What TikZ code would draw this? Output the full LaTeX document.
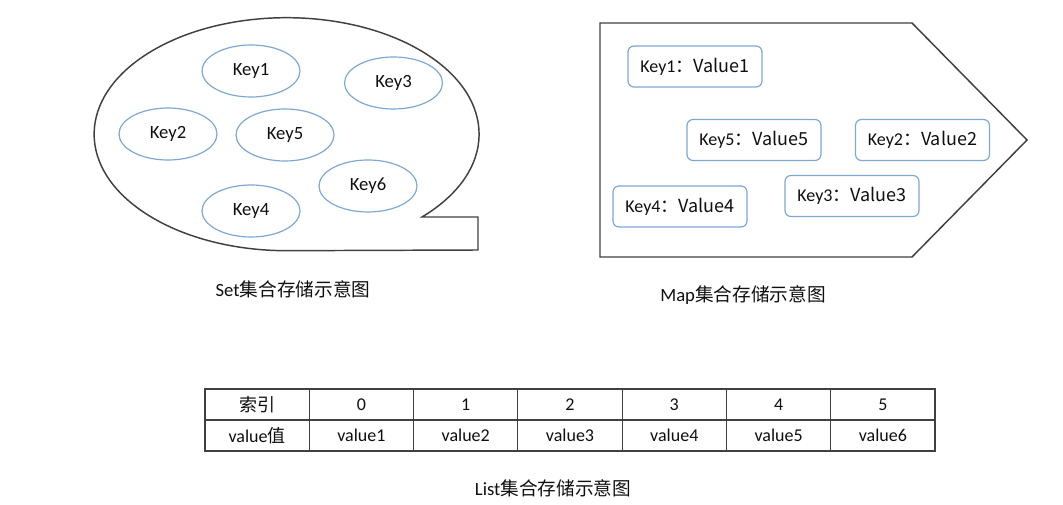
\documentclass[tikz,border=0pt]{standalone}
\usepackage{fontspec}
\setmainfont{Carlito}
\newfontfamily\cjk{Noto Sans CJK SC}
\usetikzlibrary{shapes.geometric}
\definecolor{outl}{RGB}{64,64,64}
\definecolor{bluel}{RGB}{125,168,214}
\definecolor{txt}{RGB}{15,15,15}
\begin{document}
\begin{tikzpicture}[x=0.75pt,y=-0.75pt,
  outline/.style={draw=outl,line width=1.1pt,line join=miter},
  keyell/.style={ellipse,draw=bluel,line width=0.9pt,minimum width=73.5pt,minimum height=39pt,inner sep=0pt,font=\fontsize{14}{16}\selectfont,text=txt},
  kvbox/.style={rectangle,rounded corners=4.5pt,draw=bluel,line width=0.9pt,minimum width=100.5pt,minimum height=30.75pt,inner sep=0pt,font=\fontsize{13.5}{16}\selectfont,text=txt},
  cell/.style={rectangle,draw=outl,line width=0.9pt,minimum width=78.2pt,minimum height=23.25pt,inner sep=0pt,font=\fontsize{13.5}{16}\selectfont,text=txt},
  caption/.style={font=\fontsize{14}{17}\selectfont,text=txt,inner sep=0pt}
]
\useasboundingbox (0,0) rectangle (1063,505);
% Set shape
\draw[outline] (422,217) arc[start angle=45.3,end angle=-270,x radius=192.5,y radius=116.5]
  -- (478,250) -- (478,217) -- cycle;
\node[keyell] (s1) at (251,71) {Key1};
\node[keyell] (s3) at (393.5,83) {Key3};
\node[keyell] (s2) at (168,134) {Key2};
\node[keyell] (s5) at (285,135) {Key5};
\node[keyell] (s6) at (368,186) {Key6};
\node[keyell] (s4) at (251,211) {Key4};
\node[caption] (setcap) at (293,289) {Set\cjk{集合存储示意图}};
% Map shape
\draw[outline] (600,23) -- (912,23) -- (1027,140) -- (912,257) -- (600,257) -- cycle;
\node[kvbox] (m1) at (695,66.5) {Key1\cjk{：}Value1};
\node[kvbox] (m5) at (754,140) {Key5\cjk{：}Value5};
\node[kvbox] (m2) at (922.5,140) {Key2\cjk{：}Value2};
\node[kvbox] (m3) at (852,196) {Key3\cjk{：}Value3};
\node[kvbox] (m4) at (680,206.5) {Key4\cjk{：}Value4};
\node[caption] (mapcap) at (743,295) {Map\cjk{集合存储示意图}};
% List table
\node[cell] (h0) at (257.1,404.5) {\cjk{索引}};
\node[cell] (v0) at (257.1,435.5) {value\cjk{值}};
\foreach \i/\x in {1/361.4,2/465.7,3/570,4/674.3,5/778.6,6/882.9}{
  \pgfmathtruncatemacro{\idx}{\i-1}
  \node[cell] (h\i) at (\x,404.5) {\idx};
  \node[cell] (v\i) at (\x,435.5) {value\i};
}
\node[caption] (listcap) at (553,488) {List\cjk{集合存储示意图}};
\end{tikzpicture}
\end{document}
